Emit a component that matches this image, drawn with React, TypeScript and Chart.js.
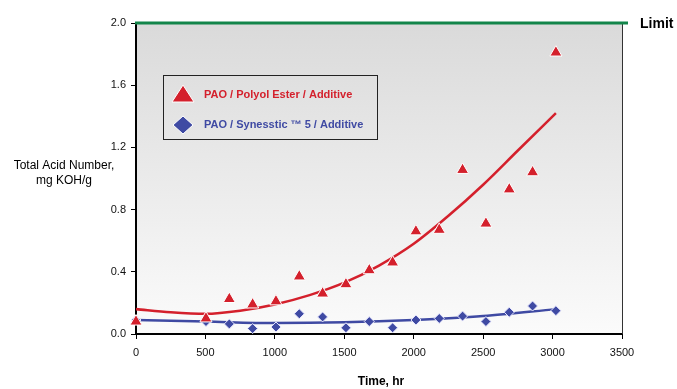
import React, { useEffect, useRef } from "react";
import { Chart, registerables } from "chart.js";

Chart.register(...registerables);

const hours = [0, 504, 672, 840, 1008, 1176, 1344, 1512, 1680, 1848, 2016, 2184, 2352, 2520, 2688, 2856, 3024];
const polyolEster = [0.08, 0.10, 0.225, 0.19, 0.21, 0.37, 0.26, 0.32, 0.41, 0.46, 0.66, 0.67, 1.055, 0.71, 0.93, 1.04, 1.81];
const synesstic = [0.09, 0.08, 0.065, 0.035, 0.045, 0.13, 0.11, 0.04, 0.08, 0.04, 0.09, 0.10, 0.115, 0.08, 0.14, 0.18, 0.15];

const polyolTrendX = [0, 250, 500, 750, 1000, 1250, 1500, 1750, 2000, 2250, 2500, 2750, 3024];
const polyolTrendY = [0.16, 0.14, 0.13, 0.15, 0.19, 0.25, 0.33, 0.44, 0.58, 0.76, 0.96, 1.18, 1.42];
const synTrendX = [0, 500, 1000, 1500, 2000, 2500, 3024];
const synTrendY = [0.09, 0.08, 0.07, 0.075, 0.09, 0.115, 0.16];

const xTicks = [0, 500, 1000, 1500, 2000, 2500, 3000, 3500];
const yTicks = [0, 0.4, 0.8, 1.2, 1.6, 2.0];
const limitValue = 2.0;

const seriesLabels = ["PAO / Polyol Ester / Additive", "PAO / Synesstic \u2122 5 / Additive"];
const yTitle = ["Total Acid Number,", "mg KOH/g"];
const xTitle = "Time, hr";
const limitLabel = "Limit";

const RED = "#d4202c";
const BLUE = "#3f4aa3";
const GREEN = "#13854a";
const FONT = "'Liberation Sans', Arial, sans-serif";

const decorPlugin = {
  id: "decor",
  beforeDraw(chart: any) {
    const { ctx, chartArea } = chart;
    const g = ctx.createLinearGradient(0, chartArea.top, 0, chartArea.bottom);
    g.addColorStop(0, "#dadada");
    g.addColorStop(1, "#fbfbfb");
    ctx.save();
    ctx.fillStyle = g;
    ctx.fillRect(chartArea.left, chartArea.top, chartArea.right - chartArea.left, chartArea.bottom - chartArea.top);
    ctx.restore();
  },
  afterDatasetsDraw(chart: any) {
    const { ctx, chartArea, scales } = chart;
    ctx.save();
    ctx.strokeStyle = "#333";
    ctx.lineWidth = 1;
    ctx.beginPath();
    ctx.moveTo(chartArea.right + 0.5, chartArea.top);
    ctx.lineTo(chartArea.right + 0.5, chartArea.bottom);
    ctx.stroke();
    const ly = scales.y.getPixelForValue(limitValue);
    ctx.strokeStyle = GREEN;
    ctx.lineWidth = 3;
    ctx.beginPath();
    ctx.moveTo(chartArea.left - 1, ly);
    ctx.lineTo(chartArea.right + 6, ly);
    ctx.stroke();
    ctx.fillStyle = "#000";
    ctx.font = `bold 14px ${FONT}`;
    ctx.textBaseline = "middle";
    ctx.textAlign = "left";
    ctx.fillText(limitLabel, 640, ly + 1);

    ctx.font = `12px ${FONT}`;
    ctx.textAlign = "center";
    ctx.fillText(yTitle[0], 64, 166);
    ctx.fillText(yTitle[1], 64, 181);
    ctx.font = `bold 12px ${FONT}`;
    ctx.fillText(xTitle, (chartArea.left + chartArea.right) / 2 + 2, 382);

    ctx.strokeStyle = "#222";
    ctx.lineWidth = 1;
    ctx.strokeRect(163.5, 75.5, 214, 64);
    ctx.fillStyle = RED;
    ctx.strokeStyle = "#fff";
    ctx.beginPath();
    ctx.moveTo(183, 85);
    ctx.lineTo(194, 102);
    ctx.lineTo(172, 102);
    ctx.closePath();
    ctx.fill();
    ctx.stroke();
    ctx.fillStyle = BLUE;
    ctx.beginPath();
    ctx.moveTo(183, 116);
    ctx.lineTo(193, 125);
    ctx.lineTo(183, 134);
    ctx.lineTo(173, 125);
    ctx.closePath();
    ctx.fill();
    ctx.stroke();
    ctx.font = `bold 11px ${FONT}`;
    ctx.textAlign = "left";
    ctx.fillStyle = RED;
    ctx.fillText(seriesLabels[0], 204, 95);
    ctx.fillStyle = BLUE;
    ctx.fillText(seriesLabels[1], 204, 125);
    ctx.restore();
  },
};

export default function App() {
  const ref = useRef<HTMLCanvasElement>(null);
  useEffect(() => {
    const canvas = ref.current!;
    const chart = new Chart(canvas, {
      type: "scatter",
      data: {
        datasets: [
          {
            label: seriesLabels[0],
            data: hours.map((h, i) => ({ x: h, y: polyolEster[i] })),
            pointStyle: "triangle",
            pointRadius: 7,
            backgroundColor: RED,
            borderColor: "#ffffff",
            borderWidth: 1,
            showLine: false,
            clip: false,
          },
          {
            label: seriesLabels[1],
            data: hours.map((h, i) => ({ x: h, y: synesstic[i] })),
            pointStyle: "rectRot",
            pointRadius: 5,
            backgroundColor: BLUE,
            borderColor: "#e8e8ff",
            borderWidth: 1,
            showLine: false,
            clip: false,
          },
          {
            label: "trend1",
            data: polyolTrendX.map((h, i) => ({ x: h, y: polyolTrendY[i] })),
            showLine: true,
            pointRadius: 0,
            borderColor: RED,
            borderWidth: 2.5,
            cubicInterpolationMode: "monotone",
          } as any,
          {
            label: "trend2",
            data: synTrendX.map((h, i) => ({ x: h, y: synTrendY[i] })),
            showLine: true,
            pointRadius: 0,
            borderColor: BLUE,
            borderWidth: 2.5,
            cubicInterpolationMode: "monotone",
          } as any,
        ],
      },
      options: {
        animation: false,
        responsive: false,
        layout: { padding: { top: 23, right: 55, left: 0, bottom: 0 } },
        plugins: { legend: { display: false }, tooltip: { enabled: false } },
        scales: {
          x: {
            type: "linear",
            min: 0,
            max: 3500,
            afterBuildTicks: (s: any) => { s.ticks = xTicks.map((v) => ({ value: v })); },
            afterFit: (s: any) => { s.height = 55; },
            grid: { drawOnChartArea: false, drawTicks: true, tickLength: 5, color: "#000" },
            border: { display: true, color: "#000", width: 2 },
            ticks: { color: "#111", font: { family: FONT, size: 11 }, padding: 7, callback: (v: any) => String(v) },
          },
          y: {
            type: "linear",
            min: 0,
            max: 2,
            afterBuildTicks: (s: any) => { s.ticks = yTicks.map((v) => ({ value: v })); },
            afterFit: (s: any) => { s.width = 136; },
            grid: { drawOnChartArea: false, drawTicks: true, tickLength: 5, color: "#000" },
            border: { display: true, color: "#000", width: 2 },
            ticks: { color: "#111", font: { family: FONT, size: 11 }, padding: 5, callback: (v: any) => Number(v).toFixed(1) },
          },
        },
      },
      plugins: [decorPlugin],
    } as any);
    return () => chart.destroy();
  }, []);
  return (
    <div style={{ position: "absolute", left: 0, top: 0, width: 677, height: 389, background: "#fff" }}>
      <canvas ref={ref} width={677} height={389} />
    </div>
  );
}
